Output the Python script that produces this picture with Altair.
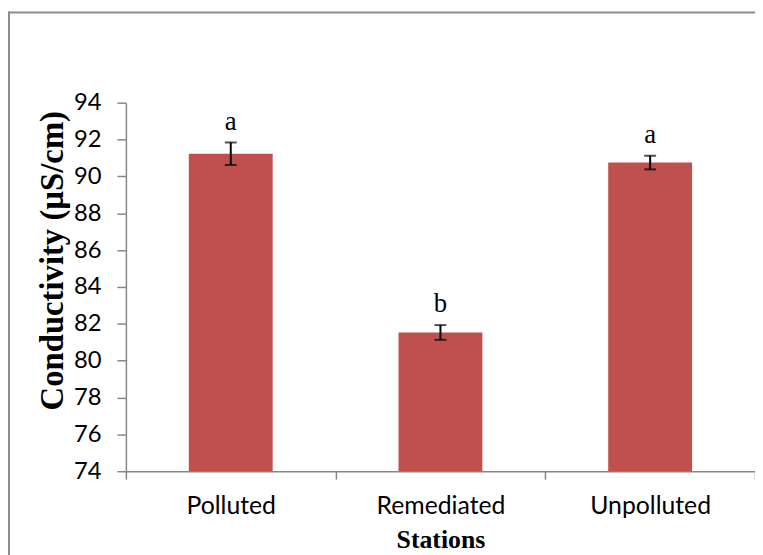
import altair as alt
import pandas as pd

stations = ["Polluted", "Remediated", "Unpolluted"]
means = [91.23, 81.53, 90.75]
errors = [0.61, 0.40, 0.37]
letters = ["a", "b", "a"]
y_ticks = [74, 76, 78, 80, 82, 84, 86, 88, 90, 92, 94]

df = pd.DataFrame({"station": stations, "mean": means, "err": errors, "letter": letters})
df["lo"] = df["mean"] - df["err"]
df["hi"] = df["mean"] + df["err"]

W, H = 635, 372
GRAY = "#868686"

xaxis = alt.Axis(
    title="Stations", tickBand="extent", labelAngle=0,
    labelFont="Lato", labelFontSize=25, labelColor="black",
    labelBaseline="alphabetic", labelPadding=35, tickSize=8,
    titleFont="Liberation Serif", titleFontWeight="bold", titleFontSize=26,
    titleColor="black", titleBaseline="alphabetic", titleY=77,
)
xscale = alt.Scale(paddingInner=0, paddingOuter=0)
yscale = alt.Scale(domain=[74, 94], nice=False, zero=False)
yaxis = alt.Axis(
    title="Conductivity (µS/cm)", values=y_ticks, grid=False, labelOverlap=False,
    labelFont="Lato", labelFontSize=24, labelColor="black",
    labelPadding=16, tickSize=9,
    titleFont="Liberation Serif", titleFontWeight="bold", titleFontSize=33,
    titleColor="black", titleAngle=-90, titleBaseline="middle", titleAlign="center",
    titleX=-74, titleY=159,
)


def X():
    return alt.X("station:N", sort=stations, scale=xscale, axis=xaxis)


def Y(field):
    return alt.Y(field, scale=yscale, axis=yaxis)


base = alt.Chart(df)

bars = base.mark_bar(color="#C0504D", width=alt.RelativeBandSize(0.4), clip=True).encode(
    x=X(), y=Y("mean:Q")
)
rule = base.mark_rule(color="black", strokeWidth=2).encode(
    x=X(), y=Y("lo:Q"), y2="hi:Q"
)
cap_lo = base.mark_tick(color="black", size=12, thickness=2).encode(x=X(), y=Y("lo:Q"))
cap_hi = base.mark_tick(color="black", size=12, thickness=2).encode(x=X(), y=Y("hi:Q"))
text = base.mark_text(
    font="Liberation Serif", fontSize=27, color="black", baseline="alphabetic", dy=-13
).encode(x=X(), y=Y("hi:Q"), text="letter:N")

frame_data = alt.Data(values=[{"k": 1}])
frame_left = alt.Chart(frame_data).mark_rule(color="#8c8c8c", strokeWidth=2).encode(
    x=alt.value(-118), y=alt.value(-92), y2=alt.value(470)
)
frame_top = alt.Chart(frame_data).mark_rule(color="#8c8c8c", strokeWidth=2).encode(
    x=alt.value(-119), x2=alt.value(W), y=alt.value(-91)
)

chart = alt.layer(bars, rule, cap_lo, cap_hi, text, frame_left, frame_top).properties(
    width=W, height=H,
    autosize=alt.AutoSizeParams(type="none"),
    padding={"left": 119, "top": 93, "right": 0, "bottom": 82},
).configure_view(stroke=None).configure_axis(
    domainColor=GRAY, tickColor=GRAY, domainWidth=1.5, tickWidth=1.5
)

chart.save("out.html", embed_options={"renderer": "svg", "actions": False})
